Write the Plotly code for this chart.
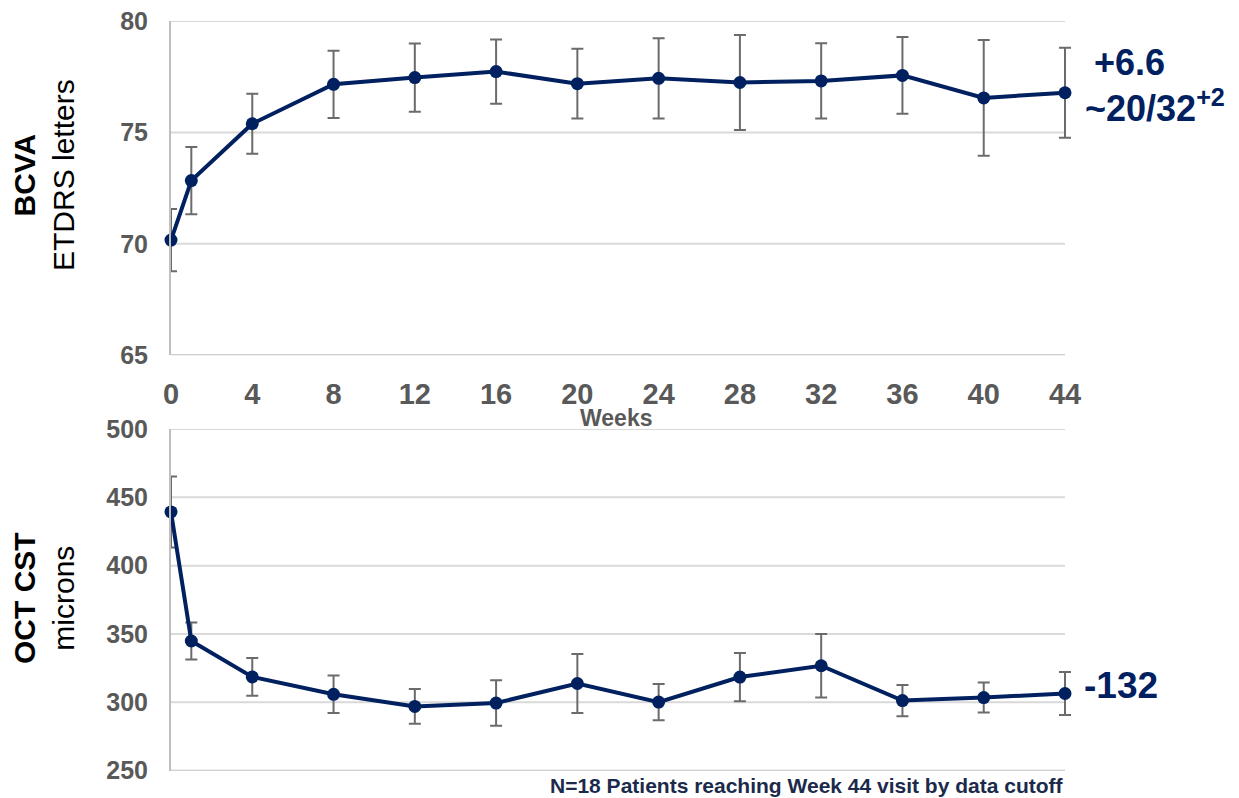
import plotly.graph_objects as go

# ---- data ----
weeks = [0, 1, 4, 8, 12, 16, 20, 24, 28, 32, 36, 40, 44]
bcva_mean = [70.17, 72.84, 75.39, 77.16, 77.46, 77.73, 77.19, 77.43, 77.24, 77.31, 77.56, 76.55, 76.78]
bcva_err = [1.40, 1.51, 1.35, 1.51, 1.53, 1.44, 1.56, 1.80, 2.13, 1.69, 1.72, 2.60, 2.02]
cst_mean = [439.3, 344.9, 318.6, 305.9, 297.0, 299.5, 313.8, 300.2, 318.5, 326.8, 301.3, 303.5, 306.5]
cst_err = [26.0, 13.5, 13.8, 13.7, 12.7, 16.7, 21.5, 13.2, 17.6, 23.2, 11.4, 11.0, 15.8]

x_ticks = [0, 4, 8, 12, 16, 20, 24, 28, 32, 36, 40, 44]
bcva_ticks = [65, 70, 75, 80]
cst_ticks = [250, 300, 350, 400, 450, 500]

NAVY = "#002060"
GREY_TXT = "#595959"
ERR = "#6b6b6b"
GRID = "#d9d9d9"
AXLINE = "#bfbfbf"
FONT = "Liberation Sans, Arial, sans-serif"

W, H = 1239, 798
def px(x):
    return x / W
def py(y):
    return 1 - y / H

X_MAX = x_ticks[-1]
X_PAD = 0.5  # room so the last error-bar cap is not clipped

fig = go.Figure()

def add_series(xs, ys, es, xa, ya):
    # error bars (clipped to plot area, so the week-0 cap is cut at the axis)
    fig.add_trace(go.Scatter(
        x=xs, y=ys, mode="markers", marker=dict(size=1, opacity=0),
        error_y=dict(type="data", array=es, visible=True, color=ERR, thickness=2, width=6),
        xaxis=xa, yaxis=ya, showlegend=False, hoverinfo="skip", cliponaxis=True))
    fig.add_trace(go.Scatter(
        x=xs, y=ys, mode="lines+markers",
        line=dict(color=NAVY, width=4),
        marker=dict(color=NAVY, size=13),
        xaxis=xa, yaxis=ya, showlegend=False, cliponaxis=False))

add_series(weeks, bcva_mean, bcva_err, "x", "y")
add_series(weeks, cst_mean, cst_err, "x2", "y2")

x_left, x_right_44 = 171, 1065
px_per_week = (x_right_44 - x_left) / X_MAX
xdom = [px(x_left), px(x_right_44 + X_PAD * px_per_week)]

common_x = dict(range=[0, X_MAX + X_PAD], tickmode="array", tickvals=x_ticks, showgrid=False,
                showline=False, zeroline=False, automargin=False,
                ticks="outside", ticklen=13, tickcolor="rgba(0,0,0,0)")
common_y = dict(showgrid=False, showline=True, linecolor=AXLINE, linewidth=2, zeroline=False,
                automargin=False, ticks="outside", ticklen=16, tickcolor="rgba(0,0,0,0)",
                tickfont=dict(family=FONT, size=25, color=GREY_TXT, weight="bold"))

fig.update_layout(
    width=W, height=H,
    template="none",
    margin=dict(l=0, r=0, t=0, b=0),
    paper_bgcolor="white", plot_bgcolor="white",
    font=dict(family=FONT),
    xaxis=dict(domain=xdom, anchor="y",
               tickfont=dict(family=FONT, size=29, color=GREY_TXT, weight="bold"), **common_x),
    yaxis=dict(domain=[py(355.3), py(21)], anchor="x", range=[65, 80],
               tickvals=bcva_ticks, tickmode="array", **common_y),
    xaxis2=dict(domain=xdom, anchor="y2", showticklabels=False, **common_x),
    yaxis2=dict(domain=[py(770.7), py(429)], anchor="x2", range=[250, 500],
                tickvals=cst_ticks, tickmode="array", **common_y),
)

# gridlines and bottom axis lines only across weeks 0..44
shapes = []
for xa, ya, ticks in (("x", "y", bcva_ticks), ("x2", "y2", cst_ticks)):
    for i, t in enumerate(ticks):
        shapes.append(dict(type="line", xref=xa, yref=ya, x0=0, x1=X_MAX, y0=t, y1=t,
                           line=dict(color=AXLINE if i == 0 else GRID, width=2), layer="below"))
fig.update_layout(shapes=shapes)

ann = [
    dict(x=px(44), y=py(175), text="<b>BCVA</b><br>ETDRS letters", textangle=-90,
         font=dict(family=FONT, size=30, color="black")),
    dict(x=px(44), y=py(598), text="<b>OCT CST</b><br>microns", textangle=-90,
         font=dict(family=FONT, size=30, color="black")),
    dict(x=px(616), y=py(418), text="<b>Weeks</b>",
         font=dict(family=FONT, size=23, color=GREY_TXT)),
    dict(x=px(1129), y=py(62), text="<b>+6.6</b>",
         font=dict(family=FONT, size=36, color=NAVY)),
    dict(x=px(1083), y=py(106), xanchor="left", text="<b>~20/32<sup>+2</sup></b>",
         font=dict(family=FONT, size=36, color=NAVY)),
    dict(x=px(1082), y=py(685), xanchor="left", text="<b>-132</b>",
         font=dict(family=FONT, size=37, color=NAVY)),
    dict(x=px(1066), y=py(785), xanchor="right", text="<b>N=18 Patients reaching Week 44 visit by data cutoff</b>",
         font=dict(family=FONT, size=21, color="#1b2a4a")),
]
for a in ann:
    a.setdefault("xanchor", "center")
    a.setdefault("yanchor", "middle")
    a.update(xref="paper", yref="paper", showarrow=False)
fig.update_layout(annotations=ann)

fig.write_html("out.html", config={"displayModeBar": False},
               post_script="document.body.style.margin='0';document.body.style.overflow='hidden';")
